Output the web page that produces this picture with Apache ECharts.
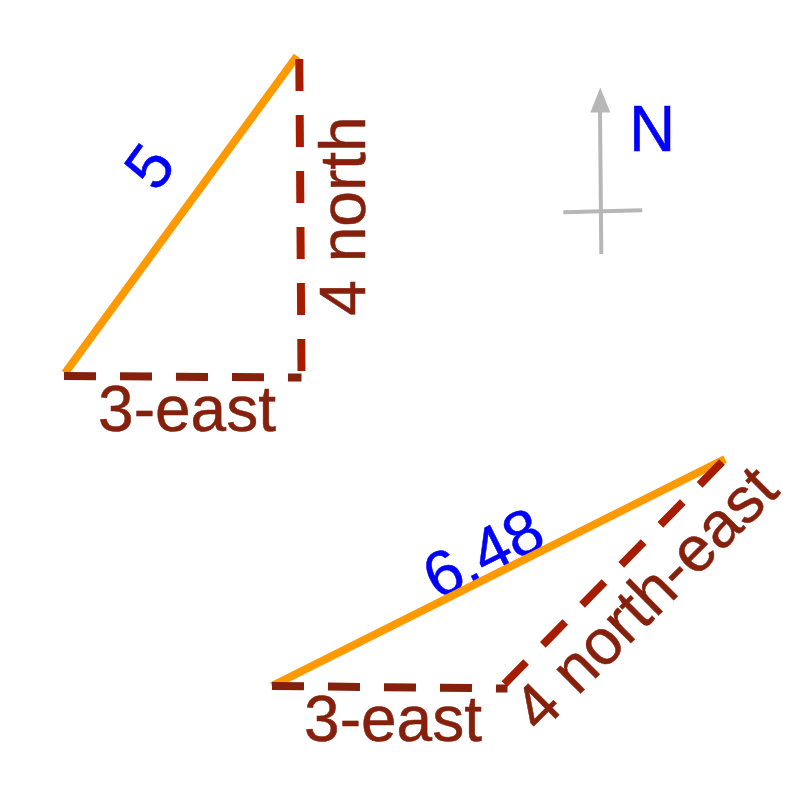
<!DOCTYPE html>
<html>
<head>
<meta charset="utf-8">
<style>html,body{margin:0;padding:0;background:#fff}#c{width:800px;height:800px}</style>
<script src="https://cdn.jsdelivr.net/npm/echarts@6/dist/echarts.min.js"></script>
</head>
<body>
<div id="c"></div>
<script>
// Segments, in an 800-unit page-like data space (y grows downward)
const hypotenuseA = [[65, 373], [297, 56]];
const eastA = [[64, 376], [301.5, 377.5]];
const northA = [[299.3, 59], [301.5, 372]];
const hypotenuseB = [[272, 686], [725, 459]];
const eastB = [[272, 686], [507.5, 688.5]];
const northEastB = [[722, 462], [504.5, 684]];
const compassShaft = [[600, 110], [601.3, 254]];
const compassCross = [[563.3, 212.3], [642.3, 210.3]];
const compassTip = [[600.3, 100]];

const labelTexts = ['5', '4 north', '3-east', 'N', '6.48', '3-east', '4 north-east'];
const labelX = [153, 347, 187, 652, 485, 393, 648];
const labelY = [169, 216, 413, 133, 557, 723, 601];
const labelAngles = [54, 90, 0, 0, 26.6, 0, 45];
const labelColors = ['#0000FF', '#85200C', '#85200C', '#0000FF', '#0000FF', '#85200C', '#85200C'];

const ORANGE = '#FF9900', BROWN = '#85200C', RED = '#A61C00', GREY = '#B7B7B7', DASH = [32, 24];

function seg(data, color, width, dash) {
  return {
    type: 'line', data, showSymbol: false, symbol: 'none', silent: true, animation: false, clip: false,
    lineStyle: { color, width, type: dash || 'solid', cap: 'butt', join: 'miter' }
  };
}

const chart = echarts.init(document.getElementById('c'), null, { renderer: 'canvas' });
chart.setOption({
  animation: false,
  backgroundColor: '#ffffff',
  tooltip: { show: false },
  legend: { show: false },
  grid: { left: 0, right: 0, top: 0, bottom: 0 },
  xAxis: { type: 'value', min: 0, max: 800, show: false },
  yAxis: { type: 'value', min: 0, max: 800, inverse: true, show: false },
  series: [
    seg(compassShaft, GREY, 4),
    seg(compassCross, GREY, 4),
    {
      type: 'scatter', data: compassTip, symbol: 'triangle', symbolSize: [20, 25], silent: true,
      itemStyle: { color: GREY, opacity: 1 }
    },
    seg(hypotenuseA, ORANGE, 8),
    seg(hypotenuseB, ORANGE, 8),
    seg(eastA, BROWN, 8, DASH),
    seg(northA, RED, 8, DASH),
    seg(eastB, BROWN, 8, DASH),
    seg(northEastB, RED, 8, DASH),
    {
      type: 'scatter', symbolSize: 1, silent: true, itemStyle: { color: 'rgba(0,0,0,0)', opacity: 1 },
      data: labelTexts.map((t, i) => ({
        value: [labelX[i], labelY[i]],
        label: {
          show: true, formatter: t, position: 'inside', align: 'center', verticalAlign: 'middle',
          rotate: labelAngles[i], opacity: 1,
          color: labelColors[i], fontFamily: 'Liberation Sans', fontSize: 64,
          textBorderColor: labelColors[i], textBorderWidth: 0.5
        }
      }))
    }
  ]
});
</script>
</body>
</html>
